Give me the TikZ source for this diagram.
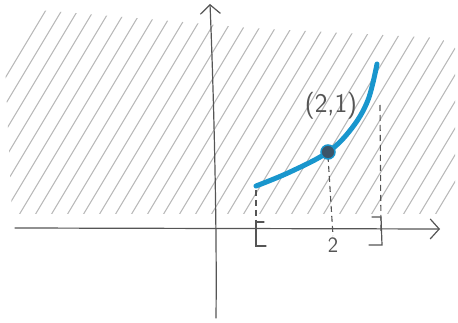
\documentclass[tikz,border=0pt]{standalone}
\usetikzlibrary{arrows.meta}
\definecolor{axisgray}{RGB}{85,85,85}
\definecolor{hatchgray}{RGB}{185,185,185}
\definecolor{curveblue}{RGB}{25,150,205}
\definecolor{dotfill}{RGB}{60,85,105}
\tikzset{
  axis/.style={draw=axisgray, line width=1.2pt, line cap=round, -{Straight Barb[length=9pt,width=20pt,line width=1.2pt]}},
  hatchline/.style={draw=hatchgray, line width=1.1pt},
  guide/.style={draw=axisgray, line width=1.1pt, dashed, dash pattern=on 6pt off 4pt},
  bracket/.style={draw=axisgray, line width=1.2pt, line cap=round},
  lbl/.style={text=axisgray, font=\sffamily\fontsize{27}{30}\selectfont, inner sep=1pt},
}
\begin{document}
\begin{tikzpicture}[x=1pt,y=-1pt]
\useasboundingbox (0,0) rectangle (458,323);
% hatched region
\begin{scope}
  \clip (12,214) -- (5,65) -- (38,10) -- (160,20) -- (250,28) -- (440,38) -- (455,48) -- (455,200) -- (438,214) -- cycle;
  \foreach \k in {0,...,42} {
    \draw[hatchline] ({-150+16*\k},230) -- ({-150+16*\k+138},0);
  }
\end{scope}
% axes
\coordinate (xs) at (15,228);
\coordinate (xe) at (440,229);
\coordinate (ys) at (216,318);
\coordinate (ye) at (210,4);
\draw[axis] (xs) -- (xe);
\draw[axis] (ys) .. controls (217,230) and (214,100) .. (ye);
% guides
\coordinate (g1t) at (256,190);
\coordinate (g1b) at (256,222);
\coordinate (g2b) at (333,236);
\coordinate (g3t) at (380,105);
\coordinate (g3b) at (381,232);
\draw[guide] (g1t) -- (g1b);
\draw[guide] (328,156) -- (g2b);
\draw[guide] (g3t) -- (g3b);
% brackets
\draw[bracket] (264,222) -- (256,222) -- (256,246) -- (266,246);
\draw[bracket] (372,217) -- (381,217) -- (382,245) -- (369,245);
% curve
\draw[curveblue, line width=5pt, line cap=round] plot[smooth, tension=0.6] coordinates {(256,186) (290,172) (328,152) (352,128) (368,100) (377,64)};
\node[circle, fill=dotfill, draw=curveblue, line width=1.5pt, minimum size=14pt, inner sep=0pt] (pt) at (328,152) {};
% labels
\node[lbl] (plbl) at (331,106) {(2,1)};
\node[lbl, font=\sffamily\fontsize{22}{24}\selectfont, inner sep=0.5pt] (two) at (333,245) {2};
\end{tikzpicture}
\end{document}
